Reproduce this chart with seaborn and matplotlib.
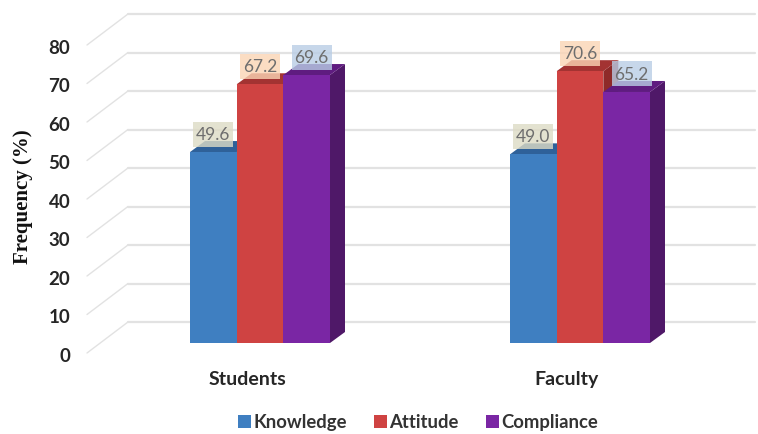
import matplotlib
matplotlib.use('Agg')
import matplotlib.pyplot as plt
from matplotlib.patches import Polygon, Rectangle
from matplotlib.transforms import ScaledTranslation
import pandas as pd
import seaborn as sns

groups = ['Students', 'Faculty']
series = ['Knowledge', 'Attitude', 'Compliance']
knowledge = [49.6, 49.0]
attitude = [67.2, 70.6]
compliance = [69.6, 65.2]
y_ticks = [0, 10, 20, 30, 40, 50, 60, 70, 80]

FRONT = ['#3F7FC1', '#CF4342', '#7A26A4']
TOP = ['#2F6199', '#A33332', '#5F1C80']
SIDE = ['#2B5888', '#8E2A29', '#4F1868']
BOX = ['#DDDBC5', '#FBD5B5', '#B9CDE5']
GRID = '#E2E2E2'

W, H = 758, 435
X_SCALE = 320.0   # pixels per category
Y_SCALE = 3.85    # pixels per percent
X_ZERO = 260      # pixel of first category centre
Y_ZERO = 344      # pixel of the front baseline
AX_LEFT, AX_BOTTOM = 87, 354

sns.set_theme(style='white')
plt.rcParams['font.family'] = ['Lato', 'DejaVu Sans']

df = pd.DataFrame({
    'group': groups * 3,
    'series': [s for s in series for _ in groups],
    'value': knowledge + attitude + compliance,
})

fig = plt.figure(figsize=(W / 100, H / 100), dpi=100)
ax = fig.add_axes([AX_LEFT / W, 1 - AX_BOTTOM / H, (W - AX_LEFT) / W, AX_BOTTOM / H])

sns.barplot(data=df, x='group', y='value', hue='series', order=groups, hue_order=series,
            palette=FRONT, saturation=1, width=140 / X_SCALE, gap=0, errorbar=None,
            edgecolor='none', linewidth=0, ax=ax)

ax.set_xlim((AX_LEFT - X_ZERO) / X_SCALE, (W - X_ZERO) / X_SCALE)
ax.set_ylim((Y_ZERO - AX_BOTTOM) / Y_SCALE, Y_ZERO / Y_SCALE)

# back wall gridlines with their floor diagonals
tip_x = (AX_LEFT - X_ZERO) / X_SCALE
back_x = (128 - X_ZERO) / X_SCALE
end_x = (755 - X_ZERO) / X_SCALE
tip_dy = -10 / Y_SCALE
back_dy = 21 / Y_SCALE
for v in y_ticks:
    ax.plot([tip_x, back_x], [v + tip_dy, v + back_dy], color=GRID, lw=1.0, zorder=0.5, clip_on=False)
    ax.plot([back_x, end_x], [v + back_dy, v + back_dy], color=GRID, lw=1.6, zorder=0.5, clip_on=False)

# fake 3D sides and tops on every bar
dx = 15 / X_SCALE
dy = 11 / Y_SCALE
box_w = 40 / X_SCALE
box_h = 25 / Y_SCALE
box_up = 18 / Y_SCALE
for i, container in enumerate(ax.containers):
    for bar in container:
        x0, x1 = bar.get_x(), bar.get_x() + bar.get_width()
        top = bar.get_height()
        bar.set_zorder(3 + i)
        ax.add_patch(Polygon([(x1, 0), (x1, top), (x1 + dx, top + dy), (x1 + dx, dy)],
                             facecolor=SIDE[i], edgecolor='none', zorder=2.9 + i))
        ax.add_patch(Polygon([(x0, top), (x1, top), (x1 + dx, top + dy), (x0 + dx, top + dy)],
                             facecolor=TOP[i], edgecolor='none', zorder=2.9 + i))
        # the purple labels sit a little right of their bars
        cx = (x0 + x1) / 2 + (5 / X_SCALE if i == 2 else 0)
        ax.add_patch(Rectangle((cx - box_w / 2, top + box_up - box_h / 2), box_w, box_h,
                               facecolor=BOX[i], edgecolor='none', alpha=0.8, zorder=9))
        ax.text(cx, top + box_up, f'{top:.1f}', ha='center', va='center',
                color='#6E6E6E', fontsize=12.5, zorder=10)

sns.despine(ax=ax, left=True, bottom=True)
ax.set_xlabel('')
ax.set_ylabel('')
ax.set_yticks(y_ticks)
ax.set_xticks(range(len(groups)))
ax.set_xticklabels(groups)
ax.tick_params(axis='y', length=0, pad=12, labelsize=13.5, labelcolor='#262626')
ax.tick_params(axis='x', length=0, pad=0, labelsize=14, labelcolor='#262626')

# tick labels sit on the front edge of the floor, not at the bar baseline
for lab in ax.get_yticklabels():
    lab.set_fontweight('bold')
    lab.set_transform(lab.get_transform() + ScaledTranslation(0, -0.11, fig.dpi_scale_trans))
for lab in ax.get_xticklabels():
    lab.set_fontweight('bold')
    lab.set_transform(lab.get_transform() + ScaledTranslation(-0.13, -0.17, fig.dpi_scale_trans))

fig.text(23 / W, 1 - 197 / H, 'Frequency (%)', rotation=90, ha='center', va='center',
         fontsize=15, fontweight='bold', family=['Liberation Serif'], color='#111111')

ax.legend(loc='center', bbox_to_anchor=(418 / W, 1 - 423 / H), bbox_transform=fig.transFigure,
          ncol=3, frameon=False, handlelength=0.7, handleheight=0.7, handletextpad=0.1,
          columnspacing=1.5, prop={'size': 13.3, 'weight': 'bold'}, labelcolor='#333333')

fig.savefig('out.png', dpi=100, facecolor='white')
